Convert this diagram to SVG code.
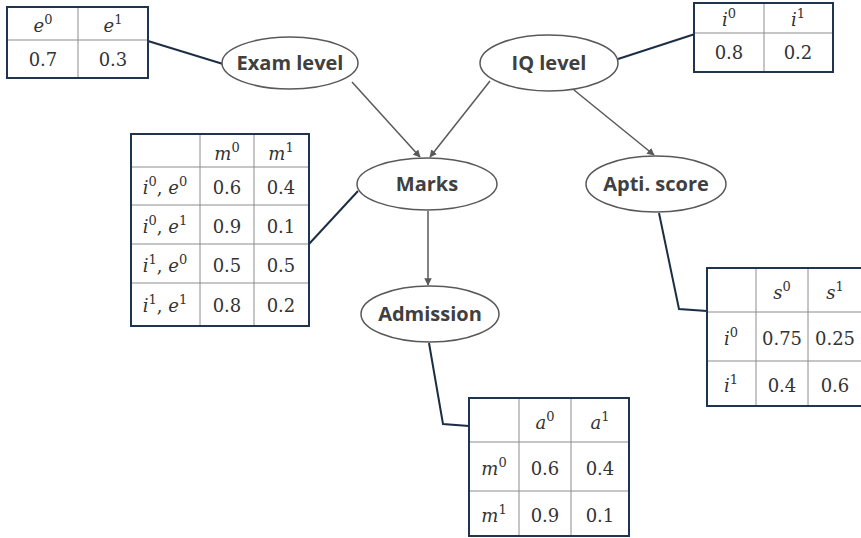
<svg xmlns="http://www.w3.org/2000/svg" width="861" height="538" viewBox="0 0 861 538">
<style>
.node ellipse{fill:#fff;stroke:#595959;stroke-width:1.5}
.node text{font-family:"Open Sans","Liberation Sans",Arial,sans-serif;font-weight:bold;font-size:20px;fill:#404040;text-anchor:middle}
.tbl .outer{fill:#fff;stroke:#1f3450;stroke-width:2}
.tbl line{stroke:#8c8c8c;stroke-width:1}
.tbl text{font-family:"DejaVu Serif","Liberation Serif",serif;font-size:18px;fill:#333;text-anchor:middle}
.v{font-style:italic}
.arrow{stroke:#595959;stroke-width:1.5;fill:none;marker-end:url(#ah)}
.link{stroke:#1c2e45;stroke-width:2;fill:none}
</style>
<defs>
<marker id="ah" viewBox="0 0 10 10" refX="9" refY="5" markerWidth="5" markerHeight="5" orient="auto" markerUnits="strokeWidth">
<path d="M0,0 L10,5 L0,10 z" fill="#595959"/>
</marker>
</defs>
<rect width="861" height="538" fill="#fff"/>

<g id="connectors">
<line class="arrow" x1="352" y1="82" x2="420" y2="157"/>
<line class="arrow" x1="490" y1="81" x2="430" y2="157"/>
<line class="arrow" x1="574" y1="90" x2="654" y2="155"/>
<line class="arrow" x1="428" y1="211" x2="428" y2="285"/>
<line class="link" x1="148" y1="41" x2="223" y2="64"/>
<line class="link" x1="695" y1="34" x2="618" y2="59"/>
<line class="link" x1="309" y1="244" x2="358" y2="191"/>
<polyline class="link" points="429,343 443,424 469,426"/>
<polyline class="link" points="659,213 679,309 707,311"/>
</g>

<g id="node-exam" class="node">
<ellipse cx="290" cy="63" rx="68" ry="26"/>
<text x="290" y="70">Exam level</text>
</g>
<g id="node-iq" class="node">
<ellipse cx="549" cy="63" rx="69" ry="28"/>
<text x="549" y="70">IQ level</text>
</g>
<g id="node-marks" class="node">
<ellipse cx="427" cy="184" rx="70" ry="26"/>
<text x="427" y="191">Marks</text>
</g>
<g id="node-apti" class="node">
<ellipse cx="656" cy="184" rx="70" ry="28"/>
<text x="656" y="191">Apti. score</text>
</g>
<g id="node-admission" class="node">
<ellipse cx="430" cy="314" rx="69" ry="28"/>
<text x="430" y="321">Admission</text>
</g>

<g id="table-exam" class="tbl">
<rect class="outer" x="7" y="7" width="141" height="71"/>
<line x1="8" y1="40" x2="147" y2="40"/>
<line x1="78" y1="8" x2="78" y2="77"/>
<text x="43" y="32"><tspan class="v">e</tspan><tspan font-size="13" dy="-8">0</tspan></text>
<text x="113" y="32"><tspan class="v">e</tspan><tspan font-size="13" dy="-8">1</tspan></text>
<text x="43" y="66">0.7</text>
<text x="113" y="66">0.3</text>
</g>

<g id="table-iq" class="tbl">
<rect class="outer" x="694" y="3" width="139" height="69"/>
<line x1="695" y1="33" x2="832" y2="33"/>
<line x1="764" y1="4" x2="764" y2="71"/>
<text x="729" y="26"><tspan class="v">i</tspan><tspan font-size="13" dy="-8">0</tspan></text>
<text x="798" y="26"><tspan class="v">i</tspan><tspan font-size="13" dy="-8">1</tspan></text>
<text x="729" y="59">0.8</text>
<text x="798" y="59">0.2</text>
</g>

<g id="table-marks" class="tbl">
<rect class="outer" x="131" y="134" width="178" height="192"/>
<line x1="132" y1="167" x2="308" y2="167"/>
<line x1="132" y1="205" x2="308" y2="205"/>
<line x1="132" y1="244" x2="308" y2="244"/>
<line x1="132" y1="283" x2="308" y2="283"/>
<line x1="200" y1="135" x2="200" y2="325"/>
<line x1="254" y1="135" x2="254" y2="325"/>
<text x="227" y="160"><tspan class="v">m</tspan><tspan font-size="13" dy="-8">0</tspan></text>
<text x="281" y="160"><tspan class="v">m</tspan><tspan font-size="13" dy="-8">1</tspan></text>
<text x="165" y="194"><tspan class="v">i</tspan><tspan font-size="13" dy="-8">0</tspan><tspan dy="8">, </tspan><tspan class="v">e</tspan><tspan font-size="13" dy="-8">0</tspan></text>
<text x="165" y="233"><tspan class="v">i</tspan><tspan font-size="13" dy="-8">0</tspan><tspan dy="8">, </tspan><tspan class="v">e</tspan><tspan font-size="13" dy="-8">1</tspan></text>
<text x="165" y="272"><tspan class="v">i</tspan><tspan font-size="13" dy="-8">1</tspan><tspan dy="8">, </tspan><tspan class="v">e</tspan><tspan font-size="13" dy="-8">0</tspan></text>
<text x="165" y="312"><tspan class="v">i</tspan><tspan font-size="13" dy="-8">1</tspan><tspan dy="8">, </tspan><tspan class="v">e</tspan><tspan font-size="13" dy="-8">1</tspan></text>
<text x="227" y="194">0.6</text><text x="281" y="194">0.4</text>
<text x="227" y="233">0.9</text><text x="281" y="233">0.1</text>
<text x="227" y="272">0.5</text><text x="281" y="272">0.5</text>
<text x="227" y="312">0.8</text><text x="281" y="312">0.2</text>
</g>

<g id="table-admission" class="tbl">
<rect class="outer" x="469" y="398" width="160" height="138"/>
<line x1="470" y1="442" x2="628" y2="442"/>
<line x1="470" y1="491" x2="628" y2="491"/>
<line x1="519" y1="399" x2="519" y2="535"/>
<line x1="571" y1="399" x2="571" y2="535"/>
<text x="545" y="429"><tspan class="v">a</tspan><tspan font-size="13" dy="-8">0</tspan></text>
<text x="600" y="429"><tspan class="v">a</tspan><tspan font-size="13" dy="-8">1</tspan></text>
<text x="494" y="475"><tspan class="v">m</tspan><tspan font-size="13" dy="-8">0</tspan></text>
<text x="494" y="522"><tspan class="v">m</tspan><tspan font-size="13" dy="-8">1</tspan></text>
<text x="545" y="475">0.6</text><text x="600" y="475">0.4</text>
<text x="545" y="522">0.9</text><text x="600" y="522">0.1</text>
</g>

<g id="table-apti" class="tbl">
<rect class="outer" x="707" y="268" width="158" height="138"/>
<line x1="708" y1="312" x2="864" y2="312"/>
<line x1="708" y1="361" x2="864" y2="361"/>
<line x1="756" y1="269" x2="756" y2="405"/>
<line x1="808" y1="269" x2="808" y2="405"/>
<text x="782" y="299"><tspan class="v">s</tspan><tspan font-size="13" dy="-8">0</tspan></text>
<text x="835" y="299"><tspan class="v">s</tspan><tspan font-size="13" dy="-8">1</tspan></text>
<text x="731" y="345"><tspan class="v">i</tspan><tspan font-size="13" dy="-8">0</tspan></text>
<text x="731" y="392"><tspan class="v">i</tspan><tspan font-size="13" dy="-8">1</tspan></text>
<text x="782" y="345">0.75</text><text x="835" y="345">0.25</text>
<text x="782" y="392">0.4</text><text x="835" y="392">0.6</text>
</g>
</svg>
